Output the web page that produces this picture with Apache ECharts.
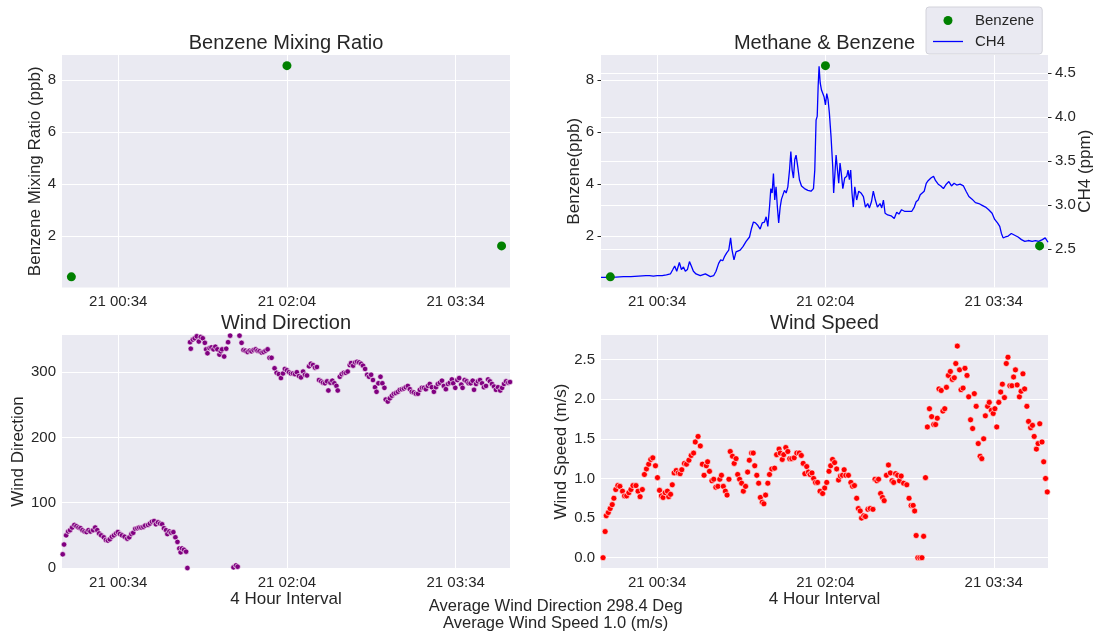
<!DOCTYPE html>
<html>
<head>
<meta charset="utf-8">
<script src="https://cdn.jsdelivr.net/npm/echarts@6/dist/echarts.min.js"></script>
<style>
  html, body { margin: 0; padding: 0; background: #ffffff; }
  #main { width: 1093px; height: 635px; }
</style>
</head>
<body>
<div id="main"></div>
<script>
// time is in minutes after 21 00:00
const xTicks = [34, 124, 214]
const benzeneTicks = [2, 4, 6, 8]
const ch4Ticks = [2.5, 3.0, 3.5, 4.0, 4.5]
const dirTicks = [0, 100, 200, 300]
const speedTicks = [0, 0.5, 1.0, 1.5, 2.0, 2.5]

const benzeneTime = [9, 124, 238.5]
const benzeneVal = [0.43, 8.56, 1.62]

const ch4Time = [4, 8, 12, 16, 20, 24, 28, 30, 32, 34, 36.7, 39, 41.1, 42.4, 43.4, 44.5, 45.9, 47, 48.1, 49.1,
  50.2, 51.3, 52.3, 53.4, 54.8, 57.1, 59.8, 62.5, 64.2, 65.5, 66.9, 68, 69.1, 70.1, 71.2, 72.3, 73.3, 74, 75.1, 76.2,
  77.2, 78.4, 79.9, 81.6, 83.4, 84.5, 85.5, 86.6, 87.9, 89.1, 90.2, 91.4, 92.3, 93.2, 94.1, 94.8, 95.5, 96.2, 96.9, 97.6,
  98.3, 99, 99.8, 100.5, 101.2, 102.1, 103, 103.9, 104.8, 105.5, 106.2, 106.9, 107.6, 108.3, 109.2, 110.1, 111.2, 112.8, 114.6, 116.3,
  117.6, 118.3, 119, 119.6, 120.1, 120.6, 121.2, 121.9, 122.6, 123.3, 124, 124.7, 125.4, 126.1, 127, 127.9, 128.4, 129, 129.7, 130.4,
  131.1, 131.8, 132.5, 133.3, 134.3, 135.4, 136.1, 136.8, 137.5, 138.2, 138.9, 139.7, 140.7, 141.8, 143, 144.3, 145.4, 146.6, 147.5, 148.6,
  149.6, 150.7, 151.8, 153.2, 154.1, 155, 155.9, 157.3, 159.1, 160.8, 162.1, 163.3, 164.7, 166.5, 168.3, 170.1, 171.5, 172.5, 173.6, 174.7,
  175.7, 176.8, 177.9, 178.9, 180.4, 181.8, 182.9, 184.3, 185.7, 187.1, 188.6, 190, 191.4, 192.8, 194.2, 196, 197.8, 199.2, 200.7, 202.4,
  204.2, 206, 207.8, 209.6, 211.3, 213.1, 214.5, 216, 217.2, 218.1, 219, 220.2, 221.7, 223.4, 225.2, 227, 228.8, 230.6, 232.5, 234.5,
  236.3, 238, 240, 241.5, 242.4, 243]
const ch4Val = [2.18, 2.18, 2.185, 2.19, 2.19, 2.195, 2.2, 2.2, 2.195, 2.2, 2.2, 2.21, 2.22, 2.27, 2.31, 2.25, 2.35, 2.27, 2.3, 2.25,
  2.27, 2.36, 2.31, 2.25, 2.22, 2.2, 2.22, 2.19, 2.2, 2.25, 2.34, 2.38, 2.37, 2.42, 2.46, 2.49, 2.63, 2.5, 2.38, 2.47,
  2.47, 2.49, 2.53, 2.59, 2.64, 2.74, 2.81, 2.8, 2.77, 2.73, 2.8, 2.81, 2.87, 2.76, 2.98, 3.19, 3.14, 3.36, 3.06, 3.21,
  2.98, 2.8, 2.98, 3.07, 3.06, 3.17, 3.14, 3.21, 3.4, 3.61, 3.4, 3.31, 3.52, 3.57, 3.44, 3.29, 3.22, 3.19, 3.17, 3.16,
  3.19, 3.4, 3.97, 4.01, 4.35, 4.58, 4.39, 4.31, 4.27, 4.23, 4.14, 4.27, 4.2, 4.05, 3.78, 3.44, 3.14, 3.14, 3.57, 3.55,
  3.25, 3.48, 3.36, 3.19, 3.31, 3.33, 3.4, 3.29, 3.4, 3.14, 2.98, 3.21, 3.06, 3.16, 3.14, 3.1, 2.98, 3.02, 2.97, 3.04,
  3.16, 3.06, 2.98, 3.02, 2.97, 3.06, 2.91, 2.89, 2.88, 2.85, 2.92, 2.9, 2.95, 2.93, 2.93, 2.93, 2.98, 3.04, 3.06, 3.12,
  3.14, 3.16, 3.25, 3.28, 3.31, 3.33, 3.28, 3.24, 3.22, 3.19, 3.24, 3.27, 3.22, 3.25, 3.23, 3.24, 3.22, 3.16, 3.1, 3.07,
  3.03, 3.02, 3.0, 2.98, 2.95, 2.91, 2.84, 2.8, 2.76, 2.68, 2.63, 2.64, 2.65, 2.68, 2.66, 2.64, 2.61, 2.59, 2.6, 2.59,
  2.6, 2.59, 2.61, 2.63, 2.62, 2.58]

const dirTime = [4.4, 5.1, 6.2, 7.3, 8.3, 9.4, 10.6, 11.7, 12.8, 13.9, 14.9, 16, 17.1, 18.1, 19.2, 20.6, 21.7, 22.8, 23.8, 24.9,
  26.3, 27.4, 28.5, 29.5, 30.6, 31.7, 32.8, 33.8, 34.9, 36, 37.4, 38.8, 39.9, 41, 42, 43.1, 44.2, 45.2, 46.3, 47.4,
  48.4, 49.9, 50.9, 52, 53.1, 54.1, 55.2, 56.3, 57.4, 58.4, 59.5, 60.2, 61.3, 62.3, 63.4, 64.5, 65.6, 66.6, 67.3, 68,
  69.1, 70.2, 70.9, 72.3, 72.7, 73.8, 74.8, 75.9, 77, 78, 79.1, 80.2, 80.9, 81.6, 82.7, 83.7, 84.8, 85.8, 86.9, 88,
  88.7, 89.4, 90.5, 91.6, 92.6, 93.7, 95.5, 96.8, 97.7, 98.7, 99.8, 100.8, 101.9, 103, 104.1, 105.1, 106.2, 107.3, 108.3, 109.4,
  110.5, 111.5, 112.6, 113.7, 114.7, 115.8, 117.4, 118.5, 119.7, 120.8, 121.9, 122.9, 124, 125.1, 126.1, 127.2, 128.3, 129.3, 130.4, 131.5,
  132.6, 133.6, 134.7, 135.8, 136.8, 137.9, 139, 140, 141.1, 142.2, 143.2, 144.3, 145.4, 146.1, 147.2, 148.2, 149.3, 150.4, 151.1, 152.2,
  153.2, 154.3, 155.4, 156.4, 157.5, 158.2, 159.3, 160.4, 161.4, 162.5, 163.6, 164.6, 165.7, 166.8, 167.8, 168.9, 169.9, 171, 171.8, 172.8,
  173.9, 174.9, 176, 176.7, 177.8, 178.9, 180, 181, 182.1, 183.2, 184.2, 185.3, 186.4, 187.4, 188.5, 189.6, 190.6, 191.7, 192.8, 193.9,
  194.9, 196, 197.1, 198.1, 199.2, 200.2, 201.3, 202.4, 203.5, 204.5, 205.6, 206.7, 207.7, 208.8, 209.9, 210.9, 212, 212.7, 213.8, 214.9,
  215.9, 217, 217.7, 218.8, 219.9, 220.9, 222, 223.1, 223.8, 224.9, 225.9, 227, 228.1, 229.1, 230.2, 231.3, 232.3, 233.4, 234.5, 235.5,
  236.6, 237.8, 238.8, 239.8, 240.9, 242.1, 243]
const dirVal = [21, 36, 50, 56, 58, 62, 66, 64, 62, 61, 58, 56, 55, 58, 56, 58, 62, 58, 53, 50,
  47, 43, 42, 44, 48, 50, 53, 55, 52, 50, 48, 45, 47, 52, 54, 60, 61, 62, 62, 63,
  65, 66, 68, 71, 72, 67, 70, 68, 67, 61, 58, 52, 56, 54, 55, 47, 40, 30, 24, 30,
  28, 25, 0, 346, 336, 350, 352, 355, 347, 354, 352, 345, 335, 329, 337, 338, 335, 339, 335, 327,
  332, 335, 324, 336, 346, 356, 1, 4, 2, 356, 345, 334, 333, 331, 333, 332, 334, 335, 333, 332,
  330, 331, 333, 335, 322, 322, 306, 299, 297, 291, 298, 305, 303, 300, 298, 298, 297, 300, 294, 292,
  301, 296, 295, 309, 313, 311, 307, 308, 288, 286, 284, 283, 286, 272, 284, 287, 283, 279, 272, 293,
  297, 299, 299, 301, 311, 314, 310, 315, 316, 315, 313, 310, 305, 296, 293, 296, 288, 277, 270, 283,
  293, 283, 276, 258, 255, 260, 264, 267, 268, 270, 273, 274, 275, 277, 279, 274, 270, 269, 267, 267,
  273, 276, 276, 274, 279, 282, 277, 270, 277, 282, 284, 287, 279, 274, 282, 284, 289, 283, 276, 288,
  291, 281, 276, 288, 286, 283, 283, 287, 273, 282, 286, 288, 283, 277, 279, 289, 286, 282, 278, 273,
  277, 272, 276, 282, 286, 284, 285]

const speedTime = [5.1, 6.2, 6.8, 7.9, 8.9, 10, 10.9, 11.9, 13, 14.1, 15.5, 16.6, 17.7, 18.9, 20, 21.1, 22.7, 23.8, 24.9, 26.1,
  27.2, 28.3, 29.5, 30.6, 31.7, 33.1, 34.2, 35.3, 36.3, 37.2, 38.3, 39.5, 40.2, 41.2, 42.1, 43.1, 44.2, 45.3, 46.3, 47.2,
  48.6, 49.7, 51, 52.2, 53.5, 54.4, 55.9, 57.1, 58.2, 59.1, 60.3, 61, 62, 63.3, 64.3, 65.4, 66.5, 67.5, 68.4, 69.4,
  70.5, 71.4, 72.4, 73.1, 74.3, 75.2, 76.2, 77.1, 78.1, 79.2, 80.1, 81.3, 82.4, 83.3, 84.5, 85.4, 86.2, 87.3, 88.3, 89.2,
  90.2, 91.1, 92, 93.2, 94.1, 95.3, 96.8, 97.9, 99.2, 99.8, 100.9, 101.7, 102.8, 103.9, 104.9, 106, 107.3, 108.7, 110, 111.1,
  112.1, 113, 114, 114.9, 115.8, 116.8, 117.7, 118.7, 119.8, 121.1, 122.5, 123.6, 124.7, 125.9, 126.8, 127.8, 128.9, 130, 131, 132,
  133.1, 134, 134.9, 136.3, 137.6, 138.5, 139.5, 140.7, 141.6, 142.6, 143.3, 144.5, 145.4, 146.7, 147.9, 149.4, 150.5, 151.5, 152.4, 153.5,
  154.5, 155.4, 156.6, 157.7, 158.7, 159.6, 160.5, 161.5, 162.6, 163.6, 164.5, 165.8, 167.5, 168.7, 169.8, 170.9, 171.7, 172.5, 173.4, 174.5,
  175.6, 176.5, 177.5, 178.5, 179.6, 180.8, 181.9, 182.9, 183.8, 184.7, 185.9, 186.8, 187.8, 188.7, 189.7, 190.8, 191.8, 192.9, 193.7, 194.5,
  195.7, 196.5, 197.6, 198.6, 199.7, 200.6, 201.6, 202.7, 203.6, 204.6, 205.7, 206.7, 207.6, 208.6, 209.5, 210.7, 211.6, 212.7, 213.7, 214.6,
  215.6, 216.7, 217.7, 218.6, 219.7, 220.7, 221.6, 222.6, 223.7, 224.6, 225.6, 226.5, 227.7, 228.6, 229.6, 230.5, 231.7, 232.6, 233.7, 234.7,
  235.6, 236.8, 237.7, 238.6, 239.8, 240.7, 241.7, 242.6]
const speedVal = [0, 0.33, 0.53, 0.57, 0.62, 0.67, 0.75, 0.86, 0.91, 0.9, 0.84, 0.78, 0.78, 0.82, 0.86, 0.91, 0.91, 0.84, 0.77, 0.86,
  1.05, 1.12, 1.18, 1.24, 1.26, 1.16, 1.01, 0.85, 0.78, 0.76, 0.82, 0.84, 0.77, 0.8, 0.92, 1.07, 1.1, 1.07, 1.06, 1.11,
  1.19, 1.18, 1.23, 1.29, 1.32, 1.46, 1.53, 1.41, 1.18, 1.04, 1.16, 1.21, 1.09, 0.97, 0.99, 0.89, 0.9, 0.99, 1.04, 0.9,
  0.84, 0.79, 0.99, 1.34, 1.28, 1.19, 1.25, 1.05, 0.99, 0.94, 0.84, 0.9, 1.08, 1.23, 1.32, 1.32, 1.16, 1.04, 0.94, 0.76,
  0.7, 0.68, 0.79, 0.94, 1.05, 1.12, 1.13, 1.3, 1.37, 1.32, 1.24, 1.3, 1.39, 1.34, 1.25, 1.25, 1.26, 1.32, 1.32, 1.29,
  1.19, 1.06, 1.15, 1.08, 1.05, 1.07, 1.0, 0.95, 0.95, 0.84, 0.81, 0.88, 0.95, 1.09, 1.16, 1.24, 1.2, 1.12, 0.98, 1.03,
  1.04, 1.11, 1.04, 1.04, 0.95, 0.9, 0.91, 0.75, 0.62, 0.59, 0.5, 0.53, 0.52, 0.61, 0.62, 0.61, 0.99, 0.97, 0.99, 0.81,
  0.76, 0.72, 1.04, 1.17, 1.07, 0.97, 0.95, 1.06, 1.04, 0.97, 1.03, 0.94, 0.92, 0.75, 0.66, 0.66, 0.59, 0.28, 0, 0,
  0, 0.27, 1.01, 1.65, 1.88, 1.78, 1.68, 1.68, 1.76, 2.13, 2.11, 1.85, 1.88, 2.15, 2.3, 2.35, 2.25, 2.27, 2.45, 2.67,
  2.37, 2.12, 2.14, 2.39, 2.3, 2.03, 1.74, 1.63, 2.07, 1.91, 1.44, 1.28, 1.25, 1.5, 1.79, 1.91, 1.96, 1.86, 1.82, 1.88,
  1.65, 1.96, 2.09, 2.19, 2.02, 2.45, 2.53, 2.17, 2.17, 2.28, 2.37, 2.18, 2.03, 2.1, 2.32, 2.13, 1.91, 1.72, 1.64, 1.67,
  1.53, 1.37, 1.44, 1.69, 1.46, 1.21, 1.0, 0.83]

const FONT = '"Liberation Sans", Arial, sans-serif'
const TXT = '#262626'
const BG = '#EAEAF2'

function zip (a, b) {
  return a.map((v, i) => [v, b[i]])
}

function timeLabel (v) {
  const h = Math.floor(v / 60)
  const m = Math.round(v - h * 60)
  return '21 ' + String(h).padStart(2, '0') + ':' + String(m).padStart(2, '0')
}

const grids = [
  { left: 62, top: 55, width: 448, height: 232.5 },
  { left: 601, top: 55, width: 447, height: 232.5 },
  { left: 62, top: 335, width: 448, height: 233 },
  { left: 601, top: 335, width: 447, height: 233 }
].map(g => Object.assign(g, { show: true, backgroundColor: BG, borderWidth: 0, outerBoundsMode: 'none', containLabel: false }))

function xAxis (gridIndex, name) {
  return {
    type: 'value',
    gridIndex,
    min: 4,
    max: 243,
    axisLine: { show: false },
    axisTick: { show: false, customValues: xTicks },
    axisLabel: { customValues: xTicks, formatter: timeLabel, margin: 7, fontSize: 15, color: TXT, fontFamily: FONT },
    splitLine: { show: true, lineStyle: { color: '#ffffff', width: 1 } },
    name,
    nameLocation: 'middle',
    nameGap: 23,
    nameMoveOverlap: false,
    nameTextStyle: { fontSize: 17, color: TXT, fontFamily: FONT }
  }
}

function yAxis (gridIndex, opts) {
  return Object.assign({
    type: 'value',
    gridIndex,
    axisLine: { show: false },
    axisTick: { show: false },
    splitLine: { show: true, lineStyle: { color: '#ffffff', width: 1 } },
    nameLocation: 'middle',
    nameRotate: 90,
    nameMoveOverlap: false,
    nameTextStyle: { fontSize: 17, color: TXT, fontFamily: FONT }
  }, opts)
}

function tickLabel (values, extra) {
  return Object.assign({ customValues: values, margin: 6, fontSize: 15, color: TXT, fontFamily: FONT }, extra || {})
}

const smallTick = { show: true, length: 3.5, lineStyle: { color: TXT, width: 1 } }

const option = {
  animation: false,
  backgroundColor: '#ffffff',
  textStyle: { fontFamily: FONT, color: TXT },
  grid: grids,
  xAxis: [xAxis(0, ''), xAxis(1, ''), xAxis(2, '4 Hour Interval'), xAxis(3, '4 Hour Interval')],
  yAxis: [
    yAxis(0, {
      min: 0.02, max: 8.97,
      axisTick: { show: false, customValues: benzeneTicks },
      axisLabel: tickLabel(benzeneTicks),
      name: 'Benzene Mixing Ratio (ppb)', nameGap: 18
    }),
    yAxis(1, {
      min: 0.02, max: 8.97,
      axisTick: Object.assign({ customValues: benzeneTicks }, smallTick),
      axisLabel: tickLabel(benzeneTicks, { margin: 7 }),
      name: 'Benzene(ppb)', nameGap: 18
    }),
    yAxis(1, {
      position: 'right',
      min: 2.066, max: 4.708,
      axisTick: Object.assign({ customValues: ch4Ticks }, smallTick),
      axisLabel: tickLabel(ch4Ticks, { margin: 7, formatter: v => v.toFixed(1) }),
      name: 'CH4 (ppm)', nameGap: 28.5
    }),
    yAxis(2, {
      min: 0, max: 357,
      axisTick: { show: false, customValues: dirTicks },
      axisLabel: tickLabel(dirTicks),
      name: 'Wind Direction', nameGap: 35
    }),
    yAxis(3, {
      min: -0.13, max: 2.81,
      axisTick: { show: false, customValues: speedTicks },
      axisLabel: tickLabel(speedTicks, { formatter: v => v.toFixed(1) }),
      name: 'Wind Speed (m/s)', nameGap: 31
    })
  ],
  legend: {
    data: [
      { name: 'Benzene', icon: 'circle' },
      { name: 'CH4', icon: 'path://M0,0H30V1.3H0Z', symbolKeepAspect: true }
    ],
    orient: 'vertical',
    left: 926,
    top: 7,
    padding: [6, 8, 5, 7],
    itemWidth: 30,
    itemHeight: 9,
    itemGap: 6,
    backgroundColor: BG,
    borderColor: '#d2d2da',
    borderWidth: 1,
    borderRadius: 3,
    selectedMode: false,
    textStyle: { fontSize: 15, lineHeight: 15, color: TXT, fontFamily: FONT, padding: [0, 0, 0, 7] }
  },
  graphic: [
    ['Benzene Mixing Ratio', 286, 43.5, 20],
    ['Methane & Benzene', 824.5, 43.5, 20],
    ['Wind Direction', 286, 323.5, 20],
    ['Wind Speed', 824.5, 323.5, 20],
    ['Average Wind Direction 298.4 Deg', 555.7, 606, 16.5],
    ['Average Wind Speed 1.0 (m/s)', 555.7, 623, 16.5]
  ].map(([text, x, y, size]) => ({
    type: 'text',
    x,
    y,
    style: {
      text,
      fill: TXT,
      font: size + 'px ' + FONT,
      align: 'center',
      verticalAlign: 'middle',
      textAlign: 'center',
      textVerticalAlign: 'middle'
    }
  })),
  series: [
    {
      name: 'Benzene Mixing Ratio',
      type: 'scatter',
      xAxisIndex: 0,
      yAxisIndex: 0,
      symbolSize: 9,
      itemStyle: { color: '#008000', opacity: 1 },
      data: zip(benzeneTime, benzeneVal)
    },
    {
      name: 'CH4',
      type: 'line',
      xAxisIndex: 1,
      yAxisIndex: 2,
      symbol: 'none',
      z: 2,
      lineStyle: { color: '#0000ff', width: 1.3 },
      itemStyle: { color: '#0000ff' },
      data: zip(ch4Time, ch4Val)
    },
    {
      name: 'Benzene',
      type: 'scatter',
      xAxisIndex: 1,
      yAxisIndex: 1,
      symbolSize: 9,
      z: 5,
      itemStyle: { color: '#008000', opacity: 1 },
      data: zip(benzeneTime, benzeneVal)
    },
    {
      name: 'Wind Direction',
      type: 'scatter',
      xAxisIndex: 2,
      yAxisIndex: 3,
      symbolSize: 5.5,
      itemStyle: { color: '#800080', borderColor: '#ffffff', borderWidth: 0.6, opacity: 1 },
      data: zip(dirTime, dirVal)
    },
    {
      name: 'Wind Speed',
      type: 'scatter',
      xAxisIndex: 3,
      yAxisIndex: 4,
      symbolSize: 6,
      itemStyle: { color: '#ff0000', borderColor: '#ffffff', borderWidth: 0.6, opacity: 1 },
      data: zip(speedTime, speedVal)
    }
  ]
}

const chart = echarts.init(document.getElementById('main'), null, { renderer: 'canvas' })
chart.setOption(option)
</script>
</body>
</html>
